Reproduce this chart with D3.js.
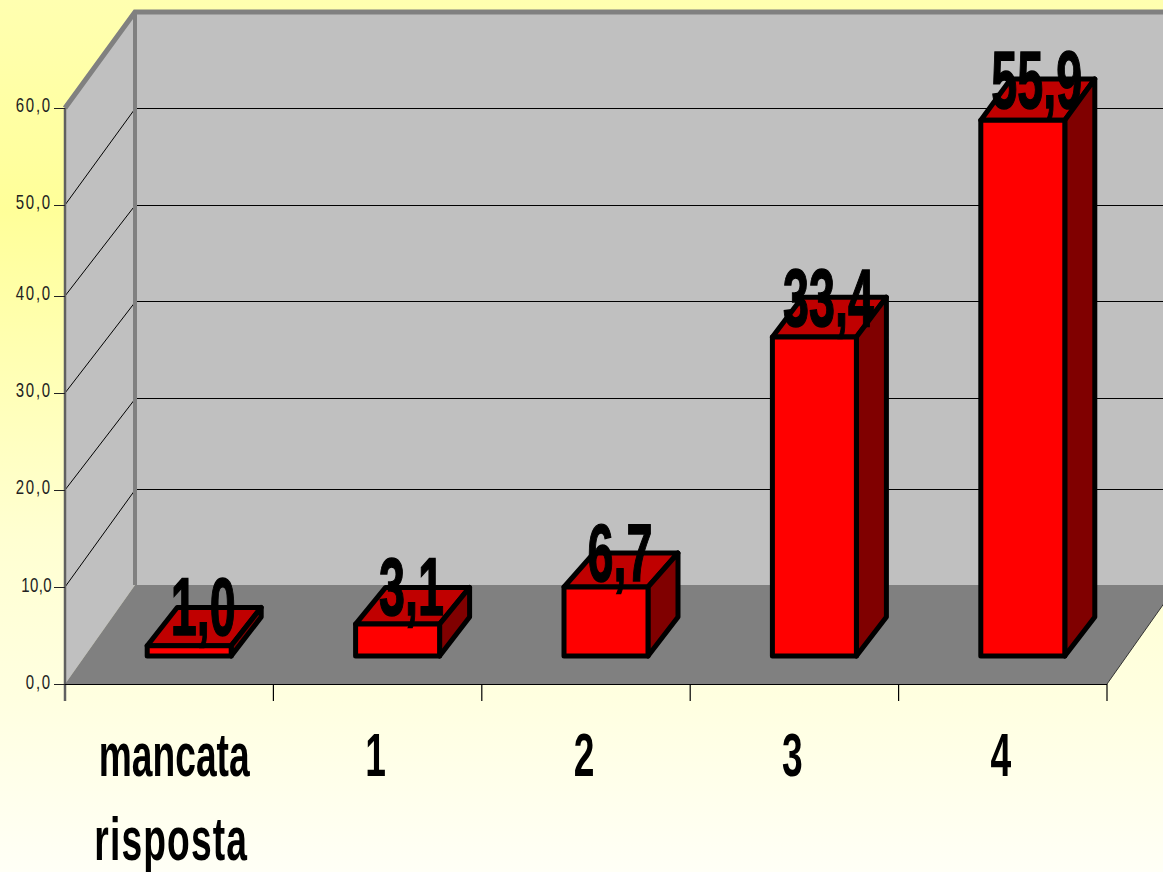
<!DOCTYPE html>
<html><head><meta charset="utf-8">
<script src="https://cdnjs.cloudflare.com/ajax/libs/d3/7.8.5/d3.min.js"></script>
<style>html,body{margin:0;padding:0;overflow:hidden;background:#fff}svg{display:block}</style>
</head><body><svg id="c" width="1163" height="872"></svg>
<script>
const categories = ["mancata risposta", "1", "2", "3", "4"];
const values = [1.0, 3.1, 6.7, 33.4, 55.9];
const valueLabels = ["1,0", "3,1", "6,7", "33,4", "55,9"];
const tickValues = [0, 10, 20, 30, 40, 50, 60];
const tickLabels = ["0,0", "10,0", "20,0", "30,0", "40,0", "50,0", "60,0"];
const catLines = [["mancata","risposta"],["1"],["2"],["3"],["4"]];

const W = 1163, H = 872;
const font = "'Liberation Sans',Arial,sans-serif";
const svg = d3.select("#c");
const x = d3.scaleBand().domain(categories).range([65, 1107]);
// the source drawing is slightly uneven, so each depth plane has its own calibrated scale
const yFront = d3.scaleLinear().domain([0, 40, 50, 60]).range([684, 296, 205, 108]);
const yBack = d3.scaleLinear().domain([0, 10, 20, 60]).range([585, 490, 399, 12]);
const yBar = d3.scaleLinear().domain([0, 10, 40, 60]).range([656, 553, 276, 80]);
const yBarBack = d3.scaleLinear().domain([0, 10, 40, 60]).range([617, 521.5, 234, 39]);
const yLabel = d3.scaleLinear().domain([0, 6.7, 33.4, 60]).range([644, 581, 326, 68]);
const depthX = 70, barInset = 20, barDepthX = 30, barW = 84;

const defs = svg.append("defs");
const g1 = defs.append("linearGradient").attr("id","bgV").attr("x1",0).attr("y1",0).attr("x2",0).attr("y2",1);
[[0,"#ffffb0"],[0.24,"#ffff99"],[0.62,"#ffffd2"],[0.8,"#ffffe0"],[1,"#fffff6"]].forEach(s=>g1.append("stop").attr("offset",s[0]).attr("stop-color",s[1]));
svg.append("rect").attr("width",W).attr("height",H).attr("fill","url(#bgV)");

const x0 = x.range()[0], x1 = x.range()[1], bx = x0 + depthX, brx = x1 + depthX;
const line = d3.line();

// walls and floor
svg.append("rect").attr("x",bx).attr("y",yBack(60)).attr("width",brx-bx).attr("height",yBack(0)-yBack(60)).attr("fill","#c0c0c0");
svg.append("path").attr("d",line([[x0,yFront(60)],[bx,yBack(60)],[bx,yBack(0)],[x0,yFront(0)]])+"Z").attr("fill","#c0c0c0");
svg.append("path").attr("d",line([[x0,yFront(0)],[x1,yFront(0)],[brx,yBack(0)],[bx,yBack(0)]])+"Z").attr("fill","#808080");

// gridlines
tickValues.filter(v=>v>0 && v<60).forEach(v=>{
  svg.append("line").attr("x1",bx).attr("x2",brx).attr("y1",Math.round(yBack(v))-.5).attr("y2",Math.round(yBack(v))-.5).attr("stroke","#000").attr("stroke-width",1);
  svg.append("line").attr("x1",x0).attr("x2",bx).attr("y1",yFront(v)).attr("y2",yBack(v)).attr("stroke","#000").attr("stroke-width",1);
});
// wall frame
svg.append("path").attr("d",line([[x0,yFront(60)],[bx,yBack(60)],[brx,yBack(60)]])).attr("fill","none").attr("stroke","#808080").attr("stroke-width",5);
svg.append("line").attr("x1",bx).attr("x2",bx).attr("y1",yBack(60)).attr("y2",yBack(0)).attr("stroke","#808080").attr("stroke-width",4);
svg.append("line").attr("x1",x0).attr("x2",x0).attr("y1",yFront(60)).attr("y2",yFront(0)+17).attr("stroke","#606060").attr("stroke-width",2.5);
svg.append("line").attr("x1",x1).attr("x2",brx).attr("y1",yFront(0)).attr("y2",yBack(0)).attr("stroke","#333").attr("stroke-width",1);
svg.append("line").attr("x1",x0).attr("x2",x1).attr("y1",yFront(0)+.5).attr("y2",yFront(0)+.5).attr("stroke","#000").attr("stroke-width",1);

// axis ticks and labels
tickValues.forEach((v,i)=>{
  svg.append("line").attr("x1",x0-11).attr("x2",x0).attr("y1",yFront(v)+.5).attr("y2",yFront(v)+.5).attr("stroke","#222").attr("stroke-width",1);
  svg.append("text").attr("transform",`translate(52,${yFront(v)+(v===0||v===10?5:4)}) scale(0.75,1)`).attr("text-anchor","end")
    .attr("font-family",font).attr("font-size",20).attr("letter-spacing",v===10?0.5:2.4).attr("fill","#222").text(tickLabels[i]);
});
categories.forEach(c=>{
  const xe = x(c)+x.bandwidth();
  svg.append("line").attr("x1",xe).attr("x2",xe).attr("y1",yFront(0)).attr("y2",yFront(0)+17).attr("stroke","#000").attr("stroke-width",1.2);
});

// bars
svg.selectAll("g.bar").data(values).join("g").attr("class","bar").each(function(v,i){
  const g = d3.select(this);
  const L = x(categories[i]) + (x.bandwidth()-barW)/2 + barInset;
  const R = L + barW, BX = barDepthX;
  const B = yBar(0), T = yBar(v), B2 = yBarBack(0), T2 = yBarBack(v);
  const st = sel => sel.attr("stroke","#000").attr("stroke-width",5).attr("stroke-linejoin","round");
  st(g.append("path").attr("d",line([[L,T],[R,T],[R+BX,T2],[L+BX,T2]])+"Z").attr("fill","#c00000"));
  st(g.append("path").attr("d",line([[R,T],[R+BX,T2],[R+BX,B2],[R,B]])+"Z").attr("fill","#800000"));
  st(g.append("path").attr("d",line([[L,T],[R,T],[R,B],[L,B]])+"Z").attr("fill","#ff0000"));
});
// value labels
values.forEach((v,i)=>{
  const cx = x(categories[i]) + x.bandwidth()/2 + barInset + 14;
  svg.append("text").attr("transform",`translate(${cx},${yLabel(v)}) scale(0.57,1)`).attr("text-anchor","middle")
    .attr("font-family",font).attr("font-weight","bold").attr("font-size",82).attr("fill","#000")
    .attr("stroke","#000").attr("stroke-width",1.5).text(valueLabels[i]);
});
// category labels
categories.forEach((c,i)=>{
  const cx = x(c) + x.bandwidth()/2;
  catLines[i].forEach((t,j)=>{
    svg.append("text").attr("transform",`translate(${cx+(i===0?(j===0?5:2):-2)},${776+j*84}) scale(0.6,1)`).attr("text-anchor","middle")
      .attr("font-family",font).attr("font-weight","bold").attr("font-size",62).attr("letter-spacing",j===1?1.9:0).attr("fill","#000").text(t);
  });
});
</script></body></html>
